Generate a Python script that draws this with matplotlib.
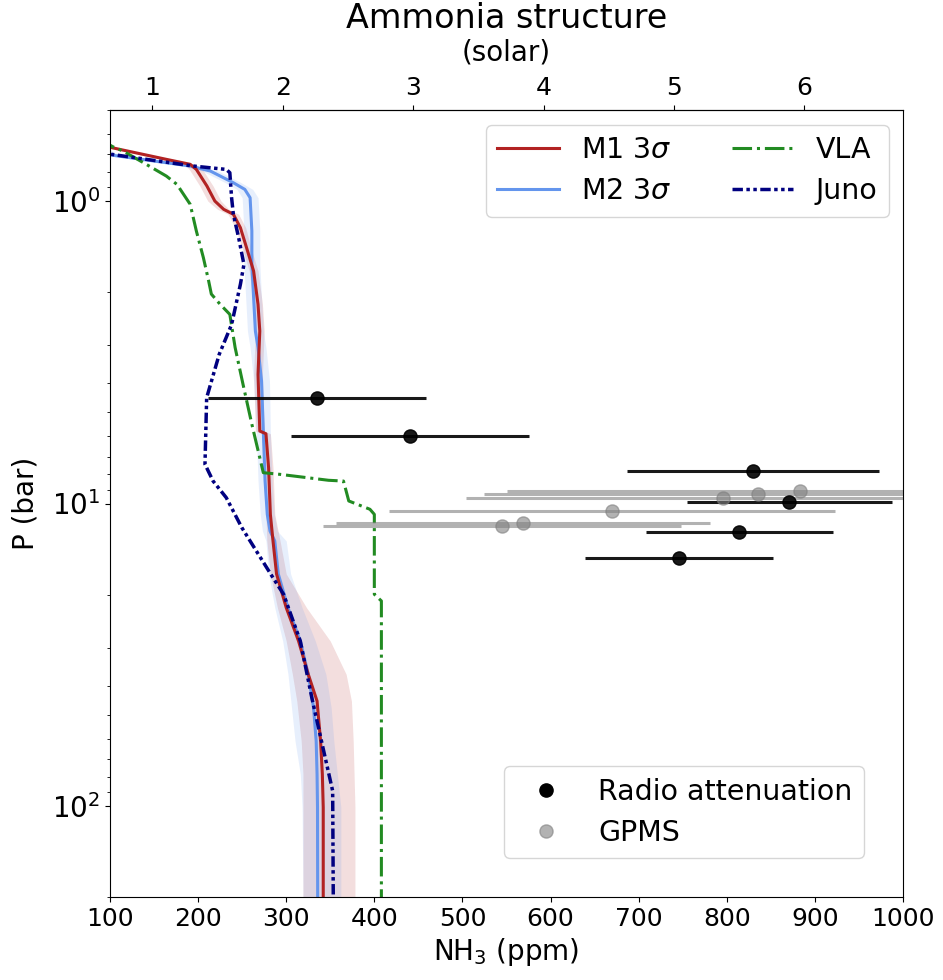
import matplotlib
matplotlib.use('Agg')
import matplotlib.pyplot as plt
from matplotlib.lines import Line2D

plt.rcParams['font.family'] = ['DejaVu Sans']

# ---------------- data ----------------
# Model M1 (3 sigma): pressure (bar), NH3 (ppm), band low/high
p_m1 = [0.60, 0.666, 0.728, 0.756, 0.786, 0.892, 1.0, 1.065, 1.106, 1.225, 1.427, 1.704, 2.195, 2.69,
        3.74, 5.76, 5.88, 7.62, 10.86, 13.3, 17.1, 22.1, 28.5, 36.7, 45, 61, 78.6, 101, 200]
m1 = [80, 102, 164, 191, 198, 210, 219, 229, 240, 248, 255, 263, 268, 270,
      268, 270, 277, 280, 282, 285, 289, 300, 314, 325, 335, 339, 341, 342, 342]
m1_lo = [75, 97, 158, 184, 190, 202, 211, 222, 234, 242, 250, 258, 263, 265,
         263, 265, 272, 275, 277, 278, 282, 290, 300, 307, 312, 317, 319, 319, 319]
m1_hi = [85, 107, 170, 197, 205, 217, 226, 235, 246, 254, 260, 268, 273, 275,
         273, 275, 282, 285, 287, 293, 300, 323, 350, 368, 374, 376, 377, 378, 378]

# Model M2 (3 sigma)
p_m2 = [0.65, 0.705, 0.766, 0.796, 0.870, 0.915, 0.975, 1.256, 1.62, 2.09, 2.69, 3.05, 3.94,
        5.76, 8.43, 10.86, 12.33, 13.3, 17.1, 22.1, 28.5, 36.7, 47.3, 61, 78.6, 101, 200]
m2 = [80, 102, 191, 214, 240, 253, 259, 261, 261, 263, 265, 268, 272,
      274, 276, 278.5, 281.6, 287, 291, 302, 316, 325, 331, 334, 335, 335.5, 335.7]
m2_lo = [71, 93, 182, 205, 231, 244, 250, 252, 252, 254, 256, 259, 263,
         266, 268, 270.5, 273, 277, 280, 287, 296, 302, 306, 310, 316, 318, 319]
m2_hi = [89, 111, 200, 223, 249, 262, 268, 270, 270, 272, 274, 277, 281,
         282, 284, 286.5, 290, 300, 305, 318, 333, 345, 351, 354, 358, 362, 362]

# VLA profile
p_vla = [0.62, 0.663, 0.684, 0.747, 0.827, 0.881, 1.025, 1.256, 1.54, 1.84, 2.03, 2.195, 2.37,
         3.05, 4.04, 5.47, 7.91, 8.01, 8.38, 8.43, 9.81, 10.45, 10.86, 19.96, 21.0, 200]
vla = [85, 104, 115, 138, 164, 176, 191, 198, 206, 212, 215, 225, 236,
       242, 251, 261, 274, 293, 348, 365, 371, 395, 400, 400, 408, 408]

# Juno profile
p_juno = [0.65, 0.701, 0.766, 0.786, 0.806, 0.975, 1.106, 1.322, 1.62, 1.885, 2.56, 3.21, 4.14,
          4.47, 7.42, 8.43, 9.57, 12.0, 13.3, 17.6, 19.96, 28.5, 43.8, 61, 89.2, 200]
juno = [80, 102, 194.5, 232, 236, 238, 240, 246, 252, 248, 238, 224, 213,
        209.7, 207.8, 217, 232, 249.5, 259, 285, 297, 316, 329, 340, 352.7, 353.4]

# Radio attenuation measurements
ra_ppm = [335, 440, 830, 871, 814, 746]
ra_p = [4.48, 5.98, 7.8, 9.9, 12.4, 15.1]
ra_err = [124, 135, 143, 116, 106, 107]

# GPMS measurements
gp_ppm = [545, 569, 670, 796, 836, 883]
gp_p = [11.9, 11.6, 10.6, 9.6, 9.3, 9.1]
gp_err = [203, 212, 253, 292, 312, 333]

SOLAR_PPM = 148.0
solar_ticks = [1, 2, 3, 4, 5, 6]
x_ticks = [100, 200, 300, 400, 500, 600, 700, 800, 900, 1000]

# ---------------- figure ----------------
W, H = 943, 980
fig = plt.figure(figsize=(W / 100, H / 100), dpi=100)
ax = fig.add_axes([110 / W, 1 - 897 / H, 793 / W, 787 / H])

ax.fill_betweenx(p_m1, m1_lo, m1_hi, color='firebrick', alpha=0.15, lw=0)
ax.fill_betweenx(p_m2, m2_lo, m2_hi, color='cornflowerblue', alpha=0.15, lw=0)

l_m2, = ax.plot(m2, p_m2, color='cornflowerblue', lw=2.2, label=r'M2 3$\sigma$')
l_m1, = ax.plot(m1, p_m1, color='firebrick', lw=2.2, label=r'M1 3$\sigma$')
l_vla, = ax.plot(vla, p_vla, color='forestgreen', lw=2.2, ls='-.', label='VLA')
l_juno, = ax.plot(juno, p_juno, color='navy', lw=2.5, ls=(0, (3, 1, 1, 1, 1, 1)), label='Juno')

ax.errorbar(gp_ppm, gp_p, xerr=gp_err, fmt='o', color='0.5', alpha=0.6,
            ms=9.5, elinewidth=2.2, capsize=0)
ax.errorbar(ra_ppm, ra_p, xerr=ra_err, fmt='o', color='k', alpha=0.9,
            ms=9.5, elinewidth=2.2, capsize=0)

ax.set_yscale('log')
ax.set_ylim(200, 0.5)
ax.set_xlim(100, 1000)
ax.set_xticks(x_ticks)
ax.tick_params(axis='x', labelsize=18)
ax.tick_params(axis='y', labelsize=20)
ax.set_xlabel(r'NH$_3$ (ppm)', fontsize=20, labelpad=4)
ax.set_ylabel('P (bar)', fontsize=20, labelpad=9)

secax = ax.secondary_xaxis('top', functions=(lambda x: x / SOLAR_PPM, lambda s: s * SOLAR_PPM))
secax.set_xticks(solar_ticks)
secax.tick_params(labelsize=18)

fig.text(506.5 / W, 1 - 28 / H, 'Ammonia structure', fontsize=24, ha='center', va='baseline')
fig.text(506.5 / W, 1 - 60 / H, '(solar)', fontsize=20, ha='center', va='baseline')

leg1 = ax.legend(handles=[l_m1, l_m2, l_vla, l_juno], ncol=2, loc='upper right',
                 bbox_to_anchor=((889 - 110) / 793, (897 - 125) / 787), borderaxespad=0,
                 fontsize=20.5, handlelength=2.15, columnspacing=2.1, labelspacing=0.45)
ax.add_artist(leg1)

h_ra = Line2D([], [], marker='o', ls='none', color='k', ms=9.5)
h_gp = Line2D([], [], marker='o', ls='none', color='0.5', alpha=0.6, ms=9.5)
ax.legend(handles=[h_ra, h_gp], labels=['Radio attenuation', 'GPMS'], loc='lower right',
          bbox_to_anchor=((864 - 110) / 793, (897 - 858) / 787), borderaxespad=0,
          fontsize=20.5, handlelength=2.1, labelspacing=0.45)

fig.savefig('out.png', dpi=100)
